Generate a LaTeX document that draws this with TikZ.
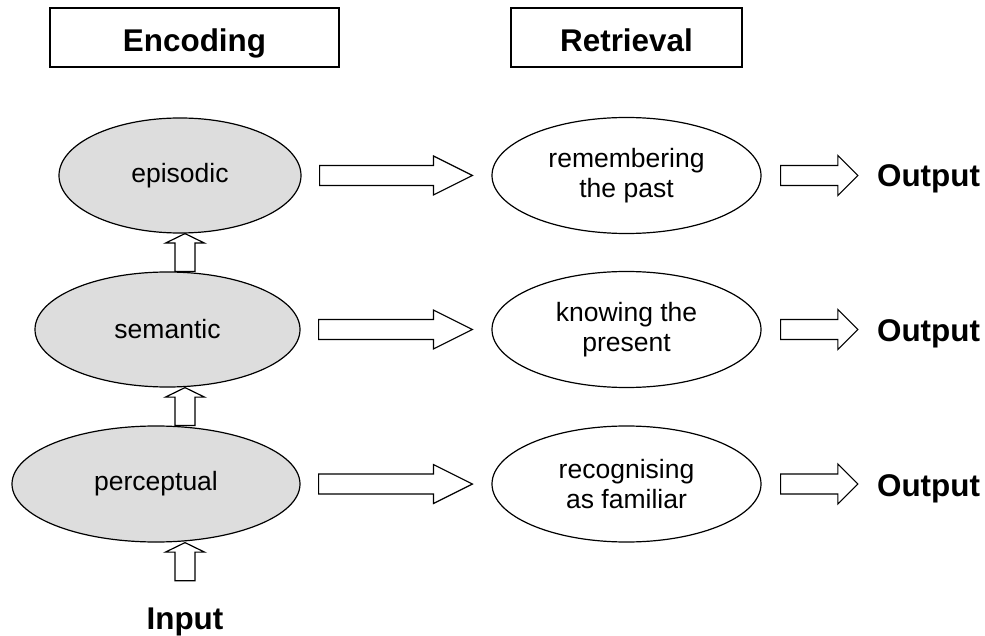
\documentclass[tikz,border=0pt]{standalone}
\usepackage{fontspec}
\setmainfont{Liberation Sans}
\usetikzlibrary{shapes.geometric,calc}

\definecolor{stagegray}{RGB}{221,221,221}

% block arrow pointing right: tail, tip, shaft half-height, head half-height, head length
\newcommand\blockright[5]{%
  \draw[blockarrow] let \p1=#1, \p2=#2 in
    (\x1,{\y1+#3}) -- ({\x2-#5},{\y1+#3}) -- ({\x2-#5},{\y1+#4}) -- (\x2,\y1)
    -- ({\x2-#5},{\y1-#4}) -- ({\x2-#5},{\y1-#3}) -- (\x1,{\y1-#3}) -- cycle;}
% block arrow pointing up: tail, tip, shaft half-width, head half-width, head length
\newcommand\blockup[5]{%
  \draw[blockarrow] let \p1=#1, \p2=#2 in
    ({\x1-#3},\y1) -- ({\x1-#3},{\y2-#5}) -- ({\x1-#4},{\y2-#5}) -- (\x1,\y2)
    -- ({\x1+#4},{\y2-#5}) -- ({\x1+#3},{\y2-#5}) -- ({\x1+#3},\y1) -- cycle;}

\tikzset{
  plaintext/.style={font=\fontsize{26.5}{29.5}\selectfont, align=center},
  boldtext/.style={font=\fontsize{31.4}{36}\selectfont\bfseries, inner sep=0pt,
    text height=22.5pt, text depth=0pt},
  stage/.style={ellipse, draw, line width=1.2pt, inner sep=0pt, plaintext},
  encstage/.style={stage, fill=stagegray},
  retstage/.style={stage, fill=white, minimum width=269pt, minimum height=116pt},
  headbox/.style={draw, line width=1.8pt, minimum height=59pt, inner sep=0pt,
    text height=27.5pt, text depth=0pt,
    font=\fontsize{31.4}{36}\selectfont\bfseries},
  blockarrow/.style={draw, fill=white, line width=1.2pt, line join=miter},
}

\begin{document}
\begin{tikzpicture}[x=1pt, y=-1pt]
  \useasboundingbox (0,0) rectangle (985,636);

  % column headings
  \node[headbox, minimum width=289pt] (enc) at (194.5,37.5) {Encoding};
  \node[headbox, minimum width=231pt] (ret) at (626.5,37.5) {Retrieval};

  % encoding stages
  \node[encstage, minimum width=242pt, minimum height=115pt] (epi) at (180,175.5) {episodic};
  \node[encstage, minimum width=265pt, minimum height=115pt] (sem) at (167.5,329.5) {semantic};
  \node[encstage, minimum width=288pt, minimum height=116pt] (per) at (156,484) {perceptual};

  % retrieval stages
  \node[retstage] (rem) at (626.5,175.5) {remembering\\the past};
  \node[retstage] (kno) at (626.5,329.5) {knowing the\\present};
  \node[retstage] (rec) at (626.5,484) {recognising\\as familiar};

  % outputs and input
  \node[boldtext] (out1) at (928.5,175.5) {Output};
  \node[boldtext] (out2) at (928.5,330.5) {Output};
  \node[boldtext] (out3) at (928.5,485) {Output};
  \coordinate (col) at (185,0);
  \node[boldtext, anchor=base] (inp) at (185,629.5) {Input};

  % upward arrows through the encoding levels
  \blockup{(sem.north -| col)}{(epi.south -| col)}{10pt}{19.5pt}{9.5pt}
  \blockup{(per.north -| col)}{(sem.south -| col)}{10pt}{19.5pt}{9.5pt}
  \blockup{($(inp.north)+(0,-26)$)}{(per.south -| col)}{10pt}{19.5pt}{9.5pt}

  % encoding to retrieval
  \blockright{($(epi.east)+(18,0)$)}{($(rem.west)+(-19,0)$)}{10pt}{19.5pt}{39pt}
  \blockright{($(sem.east)+(18,0)$)}{($(kno.west)+(-19,0)$)}{10pt}{19.5pt}{39pt}
  \blockright{($(per.east)+(18,0)$)}{($(rec.west)+(-19,0)$)}{10pt}{19.5pt}{39pt}

  % retrieval to output
  \blockright{($(rem.east)+(19,0)$)}{($(out1.west)+(-19,0)$)}{10pt}{20pt}{20pt}
  \blockright{($(kno.east)+(19,0)$)}{($(out2.west)+(-19,0)$)}{10pt}{20pt}{20pt}
  \blockright{($(rec.east)+(19,0)$)}{($(out3.west)+(-19,0)$)}{10pt}{20pt}{20pt}
\end{tikzpicture}
\end{document}
